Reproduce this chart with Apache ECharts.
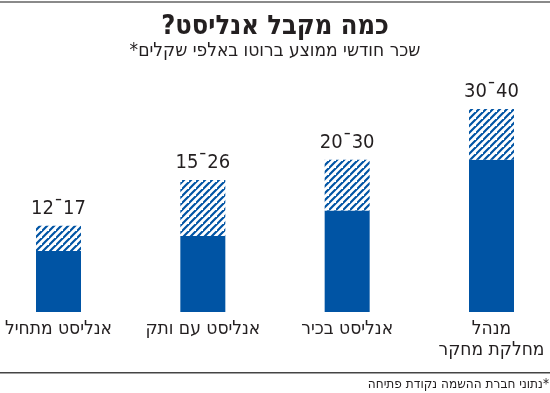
<!DOCTYPE html>
<html>
<head>
<meta charset="utf-8">
<script src="https://cdn.jsdelivr.net/npm/echarts@6/dist/echarts.min.js"></script>
<style>
html,body{margin:0;padding:0;background:#fff;}
#c{width:550px;height:393px;}
</style>
</head>
<body>
<div id="c"></div>
<script>
// ---- data ----
const categories = ['אנליסט מתחיל', 'אנליסט עם ותק', 'אנליסט בכיר', 'מנהל\nמחלקת מחקר'];
const minSalary = [12, 15, 20, 30];
const maxSalary = [17, 26, 30, 40];
const titleText = 'כמה מקבל אנליסט?\u200F';
const subtitleText = 'שכר חודשי ממוצע ברוטו באלפי שקלים*\u200F';
const footnoteText = '\u200F*נתוני חברת ההשמה נקודת פתיחה';

const rangeTop = maxSalary.map((v, i) => v - minSalary[i]);
const rangeLabels = minSalary.map((v, i) => v + '¯' + maxSalary[i]);

const BLUE = '#0054a4';
const FONT = '"DejaVu Sans Condensed", "DejaVu Sans", sans-serif';

// hatch pattern
function hatch() {
  const s = 7;
  const cv = document.createElement('canvas');
  cv.width = s; cv.height = s;
  const ctx = cv.getContext('2d');
  ctx.fillStyle = '#ffffff';
  ctx.fillRect(0, 0, s, s);
  ctx.strokeStyle = BLUE;
  ctx.lineWidth = 2.2;
  ctx.beginPath();
  ctx.moveTo(-1, s + 1); ctx.lineTo(s + 1, -1);
  ctx.moveTo(-s - 1, s + 1); ctx.lineTo(1, -1);
  ctx.moveTo(s - 1, 2 * s + 1); ctx.lineTo(2 * s + 1, s - 1);
  ctx.stroke();
  return cv;
}

const chart = echarts.init(document.getElementById('c'));
chart.setOption({
  animation: false,
  backgroundColor: '#fff',
  title: [{
    text: titleText,
    left: 'center',
    top: 8,
    textStyle: {fontFamily: FONT, fontWeight: 'bold', fontSize: 27, color: '#231f20'}
  }, {
    text: subtitleText,
    left: 'center',
    top: 37,
    textStyle: {fontFamily: FONT, fontWeight: 'normal', fontSize: 19, color: '#231f20'}
  }],
  graphic: [
    {type: 'rect', shape: {x: 0, y: 1, width: 550, height: 2}, style: {fill: '#8a8a8a'}},
    {type: 'rect', shape: {x: 0, y: 372, width: 550, height: 1.6}, style: {fill: '#444'}},
    {type: 'text', right: 1, top: 377, style: {text: footnoteText, font: '13.5px ' + FONT, fill: '#231f20', textAlign: 'right'}}
  ],
  grid: {left: 58.5, right: 58.5, top: 109, bottom: 81},
  xAxis: {
    type: 'category',
    data: categories,
    boundaryGap: false,
    axisLine: {show: false},
    axisTick: {show: false},
    axisLabel: {fontFamily: FONT, fontSize: 19, color: '#231f20', margin: 7, lineHeight: 21, align: 'center', interval: 0}
  },
  yAxis: {type: 'value', min: 0, max: 40, show: false, splitLine: {show: false}},
  series: [{
    type: 'bar',
    stack: 's',
    data: minSalary,
    barWidth: 45,
    itemStyle: {color: BLUE}
  }, {
    type: 'bar',
    stack: 's',
    data: rangeTop,
    barWidth: 45,
    itemStyle: {color: {image: hatch(), repetition: 'repeat'}},
    label: {
      show: true,
      position: 'top',
      distance: 7,
      formatter: p => rangeLabels[p.dataIndex],
      fontFamily: FONT,
      fontSize: 20,
      color: '#231f20'
    }
  }]
});
</script>
</body>
</html>
